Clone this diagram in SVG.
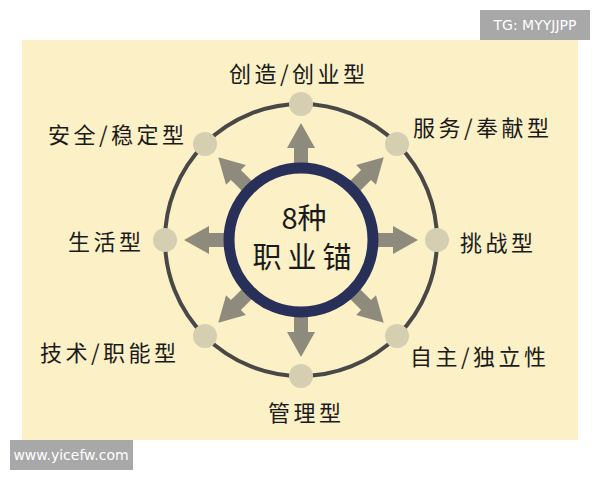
<svg xmlns="http://www.w3.org/2000/svg" width="600" height="480" viewBox="0 0 600 480">
<defs>
<style>
.lbl{font-family:"Noto Sans CJK SC","Noto Sans",sans-serif;font-size:22px;fill:#1a1a1a;letter-spacing:3.5px}
.ctr{font-family:"Noto Sans CJK SC","Noto Sans",sans-serif;font-size:29px;fill:#1a1a1a;text-anchor:middle}
.dot{fill:#d5ceb0}
.arr{fill:#8f8b7c}
.wm{font-family:"DejaVu Sans","Liberation Sans",sans-serif;font-size:14px;fill:#ffffff}
</style>
<polygon id="arrow" points="-7,-70 -7,-92 -14,-92 0,-117 14,-92 7,-92 7,-70"/>
</defs>
<rect width="600" height="480" fill="#ffffff"/>
<rect x="22" y="40" width="556" height="400" fill="#fbf0c6"/>
<circle cx="301" cy="240" r="136" fill="none" stroke="#4a4747" stroke-width="4"/>
<g id="connectors" class="arr" transform="translate(301,240)">
<use href="#arrow" transform="rotate(0)"/>
<use href="#arrow" transform="rotate(45)"/>
<use href="#arrow" transform="rotate(90)"/>
<use href="#arrow" transform="rotate(135)"/>
<use href="#arrow" transform="rotate(180)"/>
<use href="#arrow" transform="rotate(225)"/>
<use href="#arrow" transform="rotate(270)"/>
<use href="#arrow" transform="rotate(315)"/>
</g>
<g id="center">
<circle cx="301" cy="240" r="72" fill="#fbf0c6" stroke="#28305a" stroke-width="11"/>
<text class="ctr" x="304" y="229" font-size="27">8种</text>
<text class="ctr" x="305" y="268" letter-spacing="6">职业锚</text>
</g>
<g id="n-chuangye"><circle class="dot" cx="301" cy="104" r="12"/><text class="lbl" x="229" y="82">创造/创业型</text></g>
<g id="n-fuwu"><circle class="dot" cx="397" cy="144" r="12"/><text class="lbl" x="413" y="136">服务/奉献型</text></g>
<g id="n-tiaozhan"><circle class="dot" cx="437" cy="240" r="12"/><text class="lbl" x="460" y="251">挑战型</text></g>
<g id="n-zizhu"><circle class="dot" cx="397" cy="336" r="12"/><text class="lbl" x="410" y="365">自主/独立性</text></g>
<g id="n-guanli"><circle class="dot" cx="301" cy="376" r="12"/><text class="lbl" x="268" y="421">管理型</text></g>
<g id="n-jishu"><circle class="dot" cx="205" cy="336" r="12"/><text class="lbl" x="40" y="361">技术/职能型</text></g>
<g id="n-shenghuo"><circle class="dot" cx="165" cy="240" r="12"/><text class="lbl" x="68" y="250">生活型</text></g>
<g id="n-anquan"><circle class="dot" cx="205" cy="144" r="12"/><text class="lbl" x="48" y="143">安全/稳定型</text></g>
<rect x="480" y="10" width="110" height="30" fill="#a8a8a8"/>
<text class="wm" x="535" y="30" text-anchor="middle">TG: MYYJJPP</text>
<rect x="10" y="440" width="123" height="30" fill="#a8a8a8"/>
<text class="wm" x="71" y="460" text-anchor="middle">www.yicefw.com</text>
</svg>
